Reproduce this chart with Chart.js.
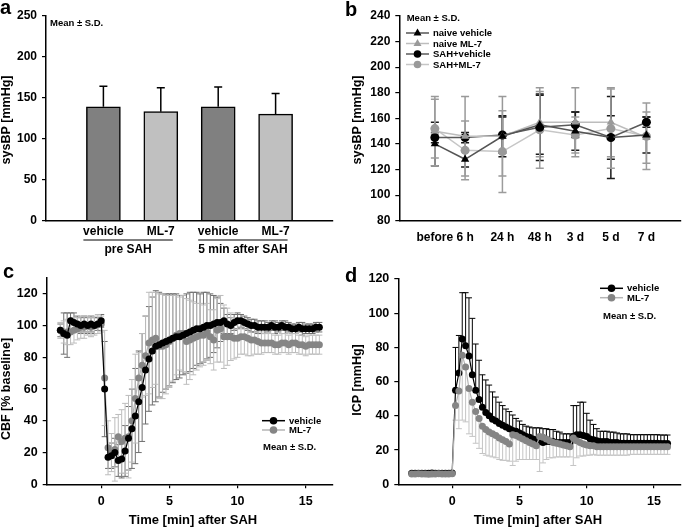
<!DOCTYPE html>
<html>
<head>
<meta charset="utf-8">
<script src="https://cdn.jsdelivr.net/npm/chart.js@4.4.1/dist/chart.umd.min.js"></script>
<style>
    html, body { margin: 0; padding: 0; background: #fff; }
    #wrap { position: relative; width: 685px; height: 528px; overflow: hidden; }
    canvas { position: absolute; }
</style>
</head>
<body>
<div id="wrap">
    <canvas id="panel-a" width="340" height="262" style="left:0;top:0"></canvas>
    <canvas id="panel-b" width="345" height="262" style="left:340px;top:0"></canvas>
    <canvas id="panel-c" width="340" height="266" style="left:0;top:262px"></canvas>
    <canvas id="panel-d" width="345" height="266" style="left:340px;top:262px"></canvas>
</div>
<script>
// ---------- data ----------

// panel a: systolic BP before / 5 min after SAH
const barLabels = ['vehicle', 'ML-7', 'vehicle', 'ML-7'];
const barPos = [1, 2, 3, 4];
const barMean = [139, 133, 139, 130];
const barSD = [25, 29, 24, 25];
const barGroups = ['pre SAH', '5 min after SAH'];
const aTicks = [0, 50, 100, 150, 200, 250];

// panel b: sysBP over 7 days
const bTimeLabels = ['before', '6 h', '24 h', '48 h', '3 d', '5 d', '7 d'];
const bTimePos = [1, 1.85, 2.9, 3.95, 4.95, 5.95, 6.95];
const naiveVehicle = [140, 128, 146, 155, 150, 145, 147];
const naiveVehicleSD = [17, 6, 16, 23, 15, 17, 14];
const naiveML7 = [150, 146, 146, 157, 157, 157, 145];
const naiveML7SD = [27, 31, 31, 27, 27, 27, 20];
const sahVehicle = [145, 145, 147, 153, 155, 145, 157];
const sahVehicleSD = [4, 4, 14, 26, 10, 32, 4];
const sahML7 = [152, 135, 134, 151, 147, 152, 146];
const sahML7SD = [23, 23, 32, 30, 14, 31, 26];
const bTicks = [80, 100, 120, 140, 160, 180, 200, 220, 240];

// panels c and d: time course after SAH (min)
const timeMin = [-3, -2.75, -2.5, -2.25, -2, -1.75, -1.5, -1.25, -1, -0.75, -0.5, -0.25, 0,
    0.25, 0.5, 0.75, 1, 1.25, 1.5, 1.75, 2, 2.25, 2.5, 2.75, 3, 3.25, 3.5, 3.75, 4,
    4.25, 4.5, 4.75, 5, 5.25, 5.5, 5.75, 6, 6.25, 6.5, 6.75, 7, 7.25, 7.5, 7.75, 8,
    8.25, 8.5, 8.75, 9, 9.25, 9.5, 9.75, 10, 10.25, 10.5, 10.75, 11, 11.25, 11.5, 11.75, 12,
    12.25, 12.5, 12.75, 13, 13.25, 13.5, 13.75, 14, 14.25, 14.5, 14.75, 15, 15.25, 15.5, 15.75, 16];
const timeTicks = [0, 5, 10, 15];

const cbfVehicle = [97, 95, 94, 103, 102, 101, 100, 101, 100, 101, 100, 101, 103,
    60, 17, 18, 20, 15, 16, 21, 29, 35, 43, 52, 61, 72, 79, 84, 87,
    88, 89, 90, 91, 92, 93, 93, 94, 95, 96, 97, 98, 98, 99, 100, 100,
    101, 102, 102, 103, 101, 100, 102, 103, 103, 102, 101, 100, 100, 99, 99, 99,
    99, 100, 99, 99, 100, 99, 99, 98, 98, 99, 98, 98, 98, 98, 99, 99];
const cbfVehicleSD = [4, 13, 14, 5, 6, 5, 5, 5, 5, 5, 5, 4, 4,
    30, 7, 8, 9, 10, 12, 16, 20, 25, 30, 32, 34, 34, 33, 34, 35,
    33, 31, 30, 29, 28, 27, 26, 25, 25, 25, 24, 23, 22, 22, 21, 20,
    18, 16, 12, 8, 6, 5, 5, 5, 4, 4, 4, 4, 4, 4, 4, 4,
    3, 3, 4, 3, 3, 4, 3, 3, 3, 3, 4, 3, 3, 3, 3, 3];
const cbfML7 = [97, 96, 96, 96, 97, 98, 99, 99, 100, 99, 100, 101, 101,
    67, 23, 20, 22, 30, 27, 29, 30, 40, 54, 67, 75, 81, 89, 91, 92,
    87, 87, 88, 90, 92, 94, 95, 95, 90, 91, 92, 93, 94, 94, 96, 93,
    91, 97, 98, 93, 93, 93, 92, 92, 93, 93, 92, 91, 91, 90, 89, 89,
    89, 89, 88, 88, 89, 89, 88, 89, 89, 88, 88, 87, 88, 88, 88, 88];
const cbfML7SD = [5, 7, 8, 8, 8, 7, 7, 7, 6, 6, 6, 6, 5,
    30, 17, 12, 20, 14, 20, 22, 26, 26, 28, 16, 20, 25, 32, 30, 29,
    33, 33, 31, 29, 27, 25, 23, 24, 27, 25, 23, 21, 20, 19, 18, 17,
    19, 20, 21, 20, 18, 15, 13, 12, 11, 11, 11, 10, 9, 8, 7, 6,
    6, 6, 6, 6, 6, 6, 6, 6, 6, 6, 6, 6, 6, 6, 6, 6];
const cTicks = [0, 20, 40, 60, 80, 100, 120];

const icpVehicle = [6.5, 6.5, 6.5, 6.4, 6.5, 6.5, 6.6, 6.5, 6.5, 6.5, 6.4, 6.5, 6.6,
    55, 65, 85, 81, 75, 64, 55, 49.5, 45, 42, 40, 38, 37, 35.5, 34.5, 33.5,
    32.5, 31.5, 31, 30, 29, 28, 27.5, 26.5, 26, 25, 24.5, 25, 25, 25, 24.5, 24.5,
    24.5, 24.5, 24.5, 28, 29, 29, 28.5, 28, 26.5, 26, 25.5, 25, 25, 25, 24.5, 24.5,
    24.5, 24, 24, 24, 24, 24, 24, 24, 24, 24, 24, 24, 24, 23.8, 23.8, 23.8];
const icpVehicleSD = [1, 1, 1, 1, 1, 1, 1, 1, 1, 1, 1, 1, 1,
    25, 22, 27, 31, 34, 33, 27, 23, 19, 19, 18, 16, 14, 12.5, 11.5, 10.5,
    10, 9, 7.5, 7, 6, 6, 6, 6.5, 7, 8, 8, 7.5, 7, 7, 6.5, 6,
    5, 5, 5, 18, 17, 19, 19.5, 13.5, 11, 9, 7, 6, 6, 6, 6, 6,
    5.5, 5.5, 5.5, 5.5, 5, 5, 5, 5, 5, 5, 5, 5, 5, 5, 5, 5];
const icpML7 = [6, 6, 6.1, 6, 6, 5.9, 6, 6, 6.1, 6, 6, 6, 6.1,
    46, 54.5, 75.5, 68.5, 56, 48, 42.5, 38.5, 34, 32, 30.5, 29.5, 28.5, 27, 26, 25,
    23.5, 29, 28.5, 27.5, 26.5, 25.5, 24.5, 23.5, 22.5, 28, 27.5, 26.5, 25.5, 24.5, 24, 23.5,
    23, 22.5, 22, 27, 25.5, 24.5, 23.5, 23, 22.5, 22.5, 22, 22, 22, 22, 22, 22,
    22, 22, 22, 22, 22, 22, 22, 22, 22, 22, 22, 22, 22, 22, 22, 22];
const icpML7SD = [1, 1, 1, 1, 1, 1, 1, 1, 1, 1, 1, 1, 1,
    8.5, 22, 38, 32, 26.5, 20, 18.5, 17.5, 16, 15, 14, 13.5, 13, 12.5, 12, 11,
    10, 18, 15, 13, 12, 11, 10, 9, 8, 20.5, 15, 12, 10, 9, 8, 7.5,
    7, 6.5, 6, 16, 10, 8, 7, 6, 5.5, 5, 5, 5, 5, 5, 5, 5,
    5, 5, 5, 5, 4.5, 4.5, 4.5, 4.5, 4.5, 4.5, 4.5, 4.5, 4.5, 4.5, 4.5, 4.5];
const dTicks = [0, 20, 40, 60, 80, 100, 120];

// ---------- setup ----------
const FONT = '"Liberation Sans", Arial, Helvetica, sans-serif';
Chart.defaults.font.family = FONT;
Chart.defaults.font.weight = 'bold';
Chart.defaults.color = '#000';
Chart.defaults.animation = false;

// SD whiskers, drawn under the marks
const errorBars = {
    id: 'errorBars',
    beforeDatasetsDraw(chart) {
        const ctx = chart.ctx;
        const yScale = chart.scales.y;
        chart.data.datasets.forEach((ds, i) => {
            if (!ds.sd) return;
            const meta = chart.getDatasetMeta(i);
            const cap = ds.capHalf || 3;
            ctx.save();
            ctx.strokeStyle = ds.errColor;
            ctx.lineWidth = ds.errWidth || 1.2;
            meta.data.forEach((el, j) => {
                const mean = ds.data[j].y;
                const top = yScale.getPixelForValue(mean + ds.sd[j]);
                const bot = yScale.getPixelForValue(mean - ds.sd[j]);
                const mid = yScale.getPixelForValue(mean);
                const up = ds.errDir !== 'down';
                const down = ds.errDir !== 'up';
                ctx.beginPath();
                ctx.moveTo(el.x, up ? top : mid);
                ctx.lineTo(el.x, down ? bot : mid);
                if (up) { ctx.moveTo(el.x - cap, top); ctx.lineTo(el.x + cap, top); }
                if (down) { ctx.moveTo(el.x - cap, bot); ctx.lineTo(el.x + cap, bot); }
                ctx.stroke();
            });
            ctx.restore();
        });
    }
};

function drawMarker(ctx, style, x, y, r, color) {
    ctx.fillStyle = color;
    ctx.beginPath();
    if (style === 'triangle') {
        ctx.moveTo(x, y - r * 1.1);
        ctx.lineTo(x + r, y + r * 0.65);
        ctx.lineTo(x - r, y + r * 0.65);
        ctx.closePath();
    } else {
        ctx.arc(x, y, r, 0, Math.PI * 2);
    }
    ctx.fill();
}

// titles, labels and legends
const panelText = {
    id: 'panelText',
    afterDraw(chart, args, opts) {
        const ctx = chart.ctx;
        (opts.items || []).forEach(it => {
            ctx.save();
            ctx.font = 'bold ' + it.size + 'px ' + FONT;
            ctx.fillStyle = '#000';
            ctx.textAlign = it.align || 'left';
            ctx.textBaseline = it.baseline || 'middle';
            ctx.translate(it.x, it.y);
            if (it.rotate) ctx.rotate(-Math.PI / 2);
            ctx.fillText(it.text, 0, 0);
            ctx.restore();
        });
        (opts.legend || []).forEach(it => {
            ctx.save();
            ctx.strokeStyle = it.lineColor;
            ctx.lineWidth = 1.5;
            ctx.beginPath();
            ctx.moveTo(it.x, it.y);
            ctx.lineTo(it.x + 23, it.y);
            ctx.stroke();
            drawMarker(ctx, it.style, it.x + 11.5, it.y, it.r || 3.6, it.pointColor);
            ctx.font = 'bold 9.5px ' + FONT;
            ctx.fillStyle = '#000';
            ctx.textBaseline = 'middle';
            ctx.fillText(it.text, it.x + 27, it.y + 0.5);
            ctx.restore();
        });
    }
};

// group lines + labels under the bars of panel a
const barGroupLabels = {
    id: 'barGroupLabels',
    afterDraw(chart) {
        const ctx = chart.ctx;
        const x = chart.scales.x;
        ctx.save();
        ctx.strokeStyle = '#000';
        ctx.lineWidth = 1.2;
        ctx.fillStyle = '#000';
        ctx.font = 'bold 12px ' + FONT;
        ctx.textAlign = 'center';
        ctx.textBaseline = 'middle';
        barGroups.forEach((g, k) => {
            const x1 = x.getPixelForValue(barPos[k * 2]) - 20;
            const x2 = x.getPixelForValue(barPos[k * 2 + 1]) + 12;
            ctx.beginPath();
            ctx.moveTo(x1, 240);
            ctx.lineTo(x2, 240);
            ctx.stroke();
            ctx.fillText(g, (x1 + x2) / 2, 250);
        });
        ctx.restore();
    }
};

function yAxis(min, max, ticks, width, size) {
    return {
        type: 'linear', position: 'left', min: min, max: max,
        afterBuildTicks: s => { s.ticks = ticks.map(v => ({ value: v })); },
        afterFit: s => { s.width = width; },
        grid: { drawOnChartArea: false, drawTicks: true, tickLength: 4, color: '#000', lineWidth: 1.2 },
        border: { color: '#000', width: 1.5 },
        ticks: { padding: 5, color: '#000', font: { size: size, weight: 'bold' } }
    };
}

function xAxis(min, max, tickVals, labels, height, pad, drawTicks, size) {
    return {
        type: 'linear', position: 'bottom', min: min, max: max, offset: false,
        afterBuildTicks: s => { s.ticks = tickVals.map(v => ({ value: v })); },
        afterFit: s => { s.height = height; },
        grid: { drawOnChartArea: false, drawTicks: drawTicks, tickLength: 4, color: '#000', lineWidth: 1.2, offset: false },
        border: { color: '#000', width: 1.5 },
        ticks: {
            padding: pad, color: '#000', autoSkip: false, maxRotation: 0,
            font: { size: size, weight: 'bold' },
            callback: labels ? (v, i) => labels[i] : (v => v)
        }
    };
}

function xy(xs, ys) {
    return xs.map((x, i) => ({ x: x, y: ys[i] }));
}

// ---------- panel a ----------
new Chart(document.getElementById('panel-a'), {
    type: 'bar',
    data: {
        datasets: [{
            data: xy(barPos, barMean),
            backgroundColor: ['#808080', '#c0c0c0', '#808080', '#c0c0c0'],
            borderColor: '#000',
            borderWidth: 1.5,
            barThickness: 34,
            sd: barSD, errDir: 'up', errColor: '#000', capHalf: 4, errWidth: 1.5
        }]
    },
    options: {
        responsive: false,
        layout: { padding: { left: 0, top: 15.7, right: 7, bottom: 0 } },
        plugins: {
            legend: { display: false },
            tooltip: { enabled: false },
            panelText: {
                items: [
                    { text: 'a', x: 0, y: 14, size: 20, baseline: 'alphabetic' },
                    { text: 'Mean \u00b1 S.D.', x: 50, y: 23, size: 9.5 },
                    { text: 'sysBP [mmHg]', x: 7, y: 120, size: 12.5, align: 'center', rotate: true }
                ]
            }
        },
        scales: {
            x: xAxis(0, 5, barPos, barLabels, 41.3, 4, false, 12),
            y: yAxis(0, 250, aTicks, 46, 12)
        }
    },
    plugins: [errorBars, panelText, barGroupLabels]
});

// ---------- panel b ----------
function bSeries(values, sd, line, point, style, errColor) {
    return {
        data: xy(bTimePos, values),
        borderColor: line, borderWidth: 1.5,
        pointStyle: style, pointRadius: style === 'triangle' ? 4.8 : 4.5,
        pointBackgroundColor: point, pointBorderColor: point, pointBorderWidth: 0,
        sd: sd, errDir: 'both', errColor: errColor, capHalf: 4, errWidth: 1.5
    };
}

new Chart(document.getElementById('panel-b'), {
    type: 'line',
    data: {
        datasets: [
            bSeries(naiveVehicle, naiveVehicleSD, '#555555', '#000000', 'triangle', '#1a1a1a'),
            bSeries(naiveML7, naiveML7SD, '#bdbdbd', '#9a9a9a', 'triangle', '#999999'),
            bSeries(sahVehicle, sahVehicleSD, '#5a5a5a', '#000000', 'circle', '#1a1a1a'),
            bSeries(sahML7, sahML7SD, '#c6c6c6', '#999999', 'circle', '#9c9c9c')
        ]
    },
    options: {
        responsive: false,
        layout: { padding: { left: 0, top: 16, right: 2, bottom: 0 } },
        plugins: {
            legend: { display: false },
            tooltip: { enabled: false },
            panelText: {
                items: [
                    { text: 'b', x: 5, y: 16, size: 20, baseline: 'alphabetic' },
                    { text: 'Mean \u00b1 S.D.', x: 66.7, y: 18.3, size: 9.5 },
                    { text: 'sysBP [mmHg]', x: 18, y: 120, size: 12.5, align: 'center', rotate: true }
                ],
                legend: [
                    { text: 'naive vehicle', x: 66, y: 33, lineColor: '#555555', pointColor: '#000', style: 'triangle', r: 4 },
                    { text: 'naive ML-7', x: 66, y: 43.5, lineColor: '#bdbdbd', pointColor: '#9a9a9a', style: 'triangle', r: 4 },
                    { text: 'SAH+vehicle', x: 66, y: 54, lineColor: '#5a5a5a', pointColor: '#000', style: 'circle', r: 3.8 },
                    { text: 'SAH+ML-7', x: 66, y: 64.5, lineColor: '#c6c6c6', pointColor: '#999999', style: 'circle', r: 3.8 }
                ]
            }
        },
        scales: {
            x: xAxis(0, 7.9, bTimePos, bTimeLabels, 41.3, 10, false, 12),
            y: yAxis(80, 240, bTicks, 59.3, 12)
        }
    },
    plugins: [errorBars, panelText]
});

// ---------- panels c, d ----------
function timeSeries(values, sd, line, point, dir, errColor) {
    return {
        data: xy(timeMin, values),
        borderColor: line, borderWidth: 1.2,
        pointRadius: 3.5, pointBackgroundColor: point, pointBorderColor: point, pointBorderWidth: 0,
        sd: sd, errDir: dir, errColor: errColor, capHalf: 3, errWidth: 1
    };
}

new Chart(document.getElementById('panel-c'), {
    type: 'line',
    data: {
        datasets: [
            timeSeries(cbfVehicle, cbfVehicleSD, '#000000', '#000000', 'both', '#6e6e6e'),
            timeSeries(cbfML7, cbfML7SD, '#b5b5b5', '#858585', 'both', '#bdbdbd')
        ]
    },
    options: {
        responsive: false,
        layout: { padding: { left: 0, top: 16, right: 7, bottom: 0 } },
        plugins: {
            legend: { display: false },
            tooltip: { enabled: false },
            panelText: {
                items: [
                    { text: 'c', x: 3, y: 16.3, size: 20, baseline: 'alphabetic' },
                    { text: 'CBF [% baseline]', x: 7, y: 127, size: 12.5, align: 'center', rotate: true },
                    { text: 'Time [min] after SAH', x: 193, y: 258, size: 13, align: 'center' },
                    { text: 'Mean \u00b1 S.D.', x: 263, y: 185.5, size: 9.5 }
                ],
                legend: [
                    { text: 'vehicle', x: 262, y: 158.7, lineColor: '#000', pointColor: '#000', style: 'circle', r: 3.8 },
                    { text: 'ML-7', x: 262, y: 168, lineColor: '#b5b5b5', pointColor: '#858585', style: 'circle', r: 3.8 }
                ]
            }
        },
        scales: {
            x: xAxis(-4, 17, timeTicks, null, 43.7, 6, true, 12.5),
            y: yAxis(0, 130, cTicks, 46.7, 12.5)
        }
    },
    plugins: [errorBars, panelText]
});

// ML-7 listed first here so its markers sit on top of the vehicle ones
new Chart(document.getElementById('panel-d'), {
    type: 'line',
    data: {
        datasets: [
            timeSeries(icpML7, icpML7SD, '#b5b5b5', '#858585', 'down', '#c4c4c4'),
            timeSeries(icpVehicle, icpVehicleSD, '#000000', '#000000', 'up', '#000000')
        ]
    },
    options: {
        responsive: false,
        layout: { padding: { left: 0, top: 17, right: 2, bottom: 0 } },
        plugins: {
            legend: { display: false },
            tooltip: { enabled: false },
            panelText: {
                items: [
                    { text: 'd', x: 5, y: 19.5, size: 20, baseline: 'alphabetic' },
                    { text: 'ICP [mmHg]', x: 18, y: 118, size: 12.5, align: 'center', rotate: true },
                    { text: 'Time [min] after SAH', x: 198, y: 258, size: 13, align: 'center' },
                    { text: 'Mean \u00b1 S.D.', x: 263, y: 54.7, size: 9.5 }
                ],
                legend: [
                    { text: 'vehicle', x: 260, y: 26.3, lineColor: '#000', pointColor: '#000', style: 'circle', r: 3.8 },
                    { text: 'ML-7', x: 260, y: 35.7, lineColor: '#b5b5b5', pointColor: '#858585', style: 'circle', r: 3.8 }
                ]
            }
        },
        scales: {
            x: xAxis(-4, 17, timeTicks, null, 43.7, 6, true, 12.5),
            y: yAxis(0, 120, dTicks, 58.3, 12.5)
        }
    },
    plugins: [errorBars, panelText]
});
</script>
</body>
</html>
